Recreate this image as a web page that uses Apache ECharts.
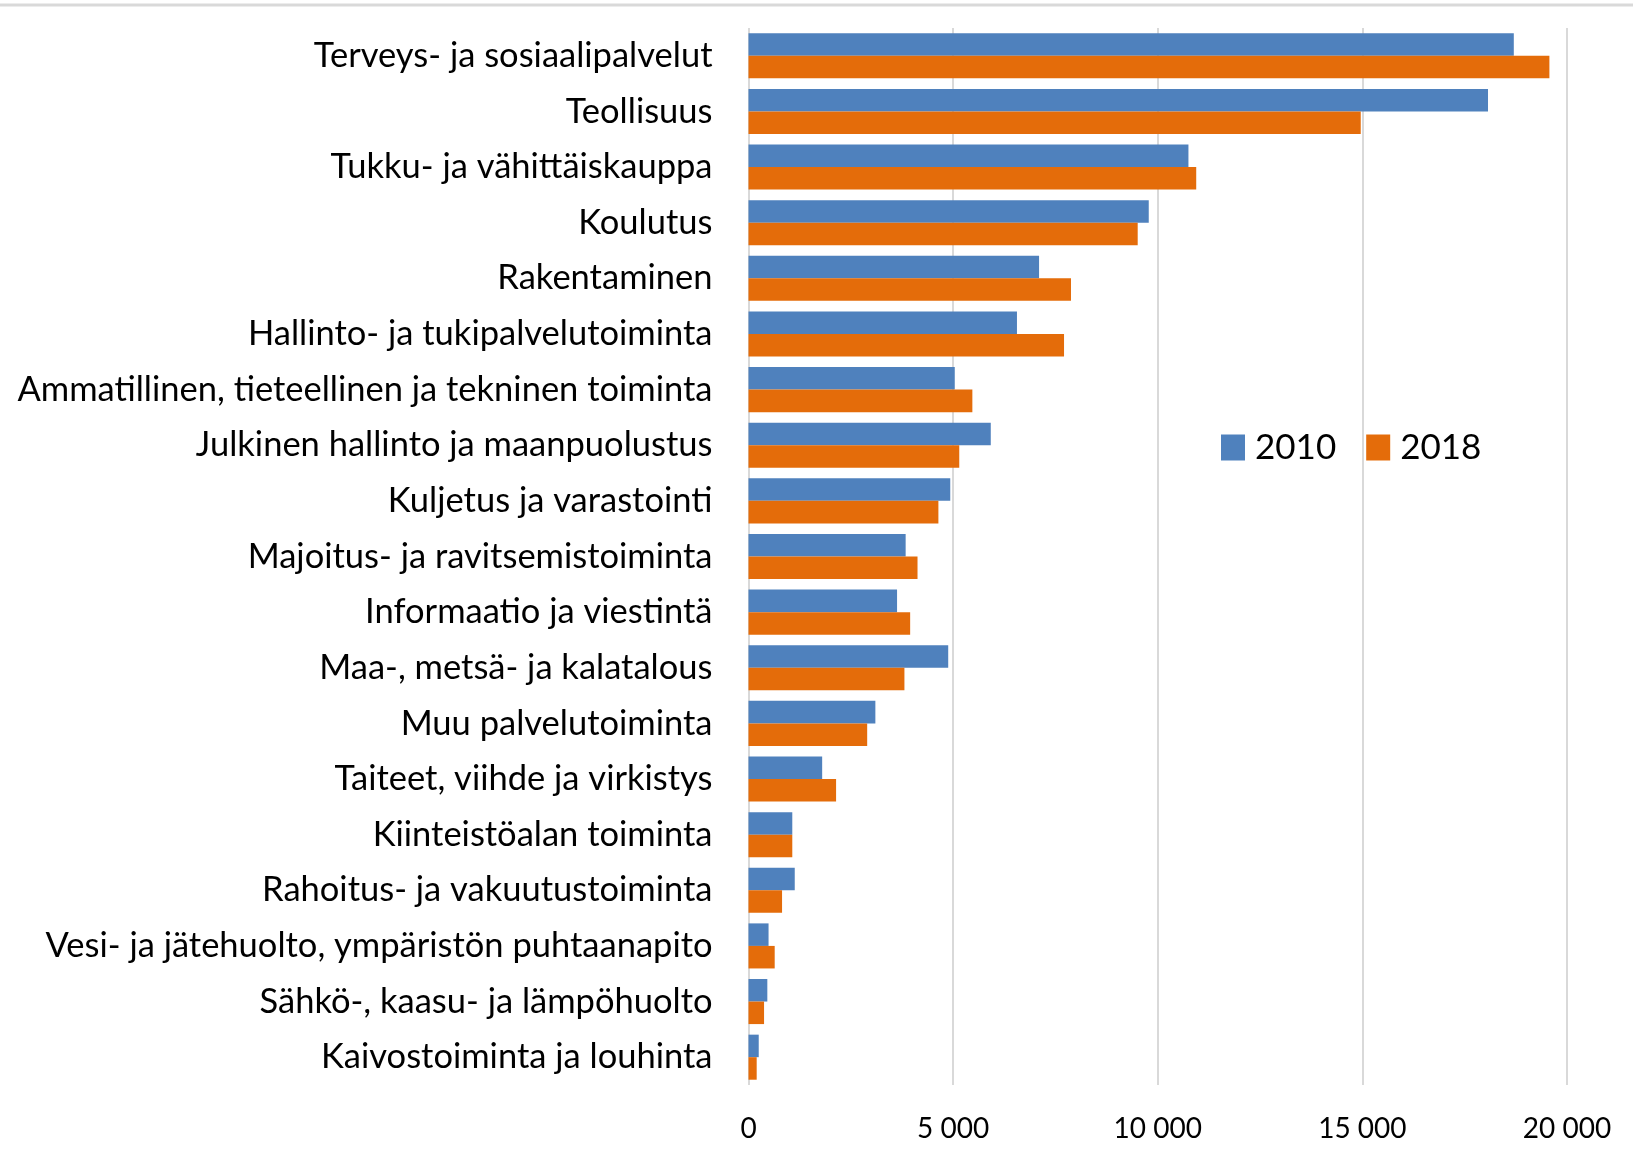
<!DOCTYPE html>
<html><head><meta charset="utf-8">
<script src="https://cdn.jsdelivr.net/npm/echarts@6/dist/echarts.min.js"></script>
<style>html,body{margin:0;padding:0;background:#fff}#c{width:1633px;height:1153px}</style>
</head><body><div id="c"></div>
<script>
const categories = [
  "Terveys- ja sosiaalipalvelut",
  "Teollisuus",
  "Tukku- ja vähittäiskauppa",
  "Koulutus",
  "Rakentaminen",
  "Hallinto- ja tukipalvelutoiminta",
  "Ammatillinen, tieteellinen ja tekninen toiminta",
  "Julkinen hallinto ja maanpuolustus",
  "Kuljetus ja varastointi",
  "Majoitus- ja ravitsemistoiminta",
  "Informaatio ja viestintä",
  "Maa-, metsä- ja kalatalous",
  "Muu palvelutoiminta",
  "Taiteet, viihde ja virkistys",
  "Kiinteistöalan toiminta",
  "Rahoitus- ja vakuutustoiminta",
  "Vesi- ja jätehuolto, ympäristön puhtaanapito",
  "Sähkö-, kaasu- ja lämpöhuolto",
  "Kaivostoiminta ja louhinta"
];
const values2010 = [18700, 18070, 10750, 9780, 7100, 6560, 5040, 5920, 4930, 3840, 3630, 4880, 3100, 1800, 1070, 1130, 490, 460, 250];
const values2018 = [19570, 14960, 10940, 9510, 7880, 7710, 5470, 5150, 4640, 4130, 3950, 3810, 2900, 2140, 1070, 820, 640, 380, 200];
const seriesNames = ["2010", "2018"];
const xTicks = [0, 5000, 10000, 15000, 20000];

const chart = echarts.init(document.getElementById('c'), null, {renderer: 'canvas'});
const FONT = 'Lato';
chart.setOption({
  animation: false,
  backgroundColor: '#fff',
  textStyle: {fontFamily: FONT, color: '#000'},
  graphic: [{
    type: 'line', shape: {x1: 0, y1: 5, x2: 1633, y2: 5},
    style: {stroke: '#d9d9d9', lineWidth: 3}
  }],
  legend: {
    left: 1216, top: 425,
    itemWidth: 24, itemHeight: 26, itemGap: 30,
    icon: 'rect',
    textStyle: {fontFamily: FONT, fontSize: 35, color: '#000', padding: [0, 0, 0, 5]},
    data: seriesNames
  },
  grid: {left: 748.5, right: 66, top: 28, bottom: 68, containLabel: false},
  xAxis: {
    type: 'value', min: xTicks[0], max: xTicks[xTicks.length - 1], interval: 5000,
    axisLine: {show: false}, axisTick: {show: false},
    splitLine: {show: true, lineStyle: {color: '#d9d9d9', width: 2}},
    axisLabel: {
      fontFamily: FONT, fontSize: 28, color: '#000', margin: 30,
      formatter: v => String(v).replace(/\B(?=(\d{3})+(?!\d))/g, ' ')
    }
  },
  yAxis: {
    type: 'category', data: categories, inverse: true,
    axisLine: {show: false}, axisTick: {show: false},
    axisLabel: {fontFamily: FONT, fontSize: 34.5, color: '#000', margin: 36}
  },
  series: [
    {name: seriesNames[0], type: 'bar', data: values2010, itemStyle: {color: '#4f81bd'},
     barGap: '0%', barCategoryGap: '19%'},
    {name: seriesNames[1], type: 'bar', data: values2018, itemStyle: {color: '#e46c0a'},
     barGap: '0%', barCategoryGap: '19%'}
  ]
});
</script></body></html>
